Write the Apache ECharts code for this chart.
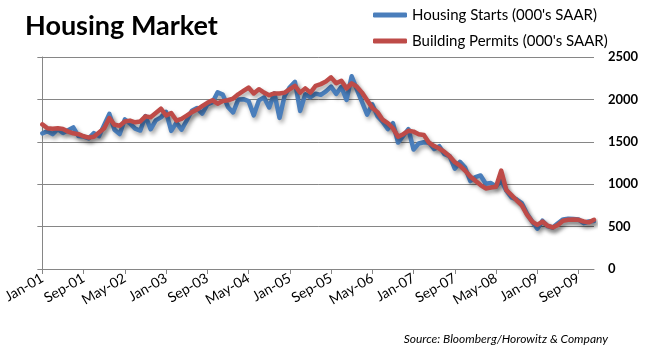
<!DOCTYPE html>
<html>
<head>
<meta charset="utf-8">
<script src="https://cdn.jsdelivr.net/npm/echarts@6/dist/echarts.min.js"></script>
<style>
  html, body { margin: 0; padding: 0; background: #fff; }
  #chart { width: 649px; height: 354px; }
</style>
</head>
<body>
<div id="chart"></div>
<script>
// months Jan-01 .. Dec-09
const monthNames = ["Jan", "Feb", "Mar", "Apr", "May", "Jun", "Jul", "Aug", "Sep", "Oct", "Nov", "Dec"];
const years = ["01", "02", "03", "04", "05", "06", "07", "08", "09"];

// Housing Starts (000's SAAR)
const housingStarts = [
  1600, 1625, 1590, 1649, 1605, 1636, 1670, 1567, 1562, 1540, 1602, 1568,
  1698, 1829, 1642, 1592, 1764, 1717, 1655, 1633, 1804, 1648, 1753, 1788,
  1853, 1629, 1726, 1643, 1751, 1867, 1897, 1833, 1939, 1967, 2083, 2057,
  1911, 1846, 1998, 2003, 1981, 1812, 1988, 2024, 1905, 2072, 1782, 2042,
  2144, 2207, 1864, 2061, 2025, 2068, 2054, 2095, 2151, 2065, 2147, 1994,
  2273, 2119, 1969, 1821, 1942, 1802, 1737, 1650, 1720, 1491, 1570, 1649,
  1409, 1480, 1495, 1490, 1415, 1448, 1354, 1330, 1183, 1264, 1197, 1037,
  1084, 1103, 1005, 1013, 973, 1046, 923, 844, 820, 777, 652, 560,
  475, 570, 505, 490, 540, 585, 594, 590, 585, 540, 560, 565
];

// Building Permits (000's SAAR)
const buildingPermits = [
  1705, 1660, 1655, 1660, 1650, 1620, 1600, 1590, 1565, 1550, 1560, 1610,
  1660, 1780, 1700, 1690, 1740, 1750, 1730, 1740, 1800, 1790, 1840, 1890,
  1810, 1840, 1750, 1770, 1810, 1850, 1880, 1920, 1960, 1990, 1950, 1980,
  1990, 2010, 2060, 2100, 2140, 2070, 2120, 2080, 2050, 2070, 2070, 2080,
  2120, 2160, 2080, 2130, 2080, 2160, 2180, 2210, 2260, 2190, 2220, 2130,
  2190, 2150, 2080, 1990, 1900, 1850, 1760, 1720, 1660, 1560, 1590, 1630,
  1620, 1590, 1580, 1490, 1450, 1420, 1380, 1330, 1260, 1220, 1160, 1090,
  1040, 990, 950, 960, 970, 1160, 930, 870, 810, 750, 640, 560,
  520, 560, 510, 490, 520, 570, 580, 585, 580, 560, 550, 580
];

const yTicks = [0, 500, 1000, 1500, 2000, 2500];

const categories = [];
years.forEach((y) => {
  monthNames.forEach((m) => {
    categories.push(m + "-" + y);
  });
});

const axisGray = "#868686";
const font = "Lato, 'Open Sans', sans-serif";

const chart = echarts.init(document.getElementById("chart"), null, { renderer: "canvas" });

const lineShadow = {
  shadowColor: "rgba(0,0,0,0.35)",
  shadowBlur: 4,
  shadowOffsetX: 2,
  shadowOffsetY: 3,
};

chart.setOption({
  animation: false,
  title: {
    text: "Housing Market",
    left: 20,
    top: 8,
    textStyle: { fontFamily: font, fontSize: 27, fontWeight: "bold", color: "#000" },
  },
  legend: {
    orient: "vertical",
    left: 368,
    top: 2,
    itemWidth: 34,
    itemHeight: 5,
    itemGap: 10,
    icon: "roundRect",
    textStyle: { fontFamily: font, fontSize: 15, lineHeight: 16, color: "#000" },
    data: ["Housing Starts (000's SAAR)", "Building Permits (000's SAAR)"],
  },
  graphic: [
    {
      type: "text",
      right: 41,
      top: 333,
      style: {
        text: "Source: Bloomberg/Horowitz & Company",
        font: "italic 12px " + font,
        fill: "#000",
      },
    },
  ],
  grid: { left: 38, right: 55, top: 57, bottom: 85 },
  xAxis: {
    type: "category",
    data: categories,
    boundaryGap: false,
    axisLine: { lineStyle: { color: axisGray, width: 1 } },
    axisTick: { interval: 7, length: 5, lineStyle: { color: axisGray } },
    axisLabel: {
      interval: 7,
      rotate: 30,
      margin: 8,
      fontFamily: font,
      fontSize: 14,
      color: "#000",
    },
  },
  yAxis: [
    {
      type: "value",
      position: "right",
      min: yTicks[0],
      max: yTicks[yTicks.length - 1],
      interval: 500,
      axisLine: { show: false },
      axisTick: { show: false },
      axisLabel: {
        margin: 14,
        fontFamily: font,
        fontSize: 13,
        fontWeight: "bold",
        color: "#000",
        formatter: (v) => String(v),
      },
      splitLine: { show: true, lineStyle: { color: axisGray, width: 1 } },
    },
    {
      type: "value",
      position: "left",
      min: yTicks[0],
      max: yTicks[yTicks.length - 1],
      interval: 500,
      axisLine: { show: true, lineStyle: { color: axisGray } },
      axisTick: { show: true, length: 5, lineStyle: { color: axisGray } },
      axisLabel: { show: false },
      splitLine: { show: false },
    },
  ],
  series: [
    {
      name: "Housing Starts (000's SAAR)",
      type: "line",
      data: housingStarts,
      showSymbol: false,
      symbol: "none",
      color: "#4A7EBB",
      lineStyle: Object.assign({ width: 4.5, color: "#4A7EBB", cap: "round", join: "round" }, lineShadow),
    },
    {
      name: "Building Permits (000's SAAR)",
      type: "line",
      data: buildingPermits,
      showSymbol: false,
      symbol: "none",
      color: "#BE4B48",
      lineStyle: Object.assign({ width: 4.5, color: "#BE4B48", cap: "round", join: "round" }, lineShadow),
    },
  ],
});
</script>
</body>
</html>
